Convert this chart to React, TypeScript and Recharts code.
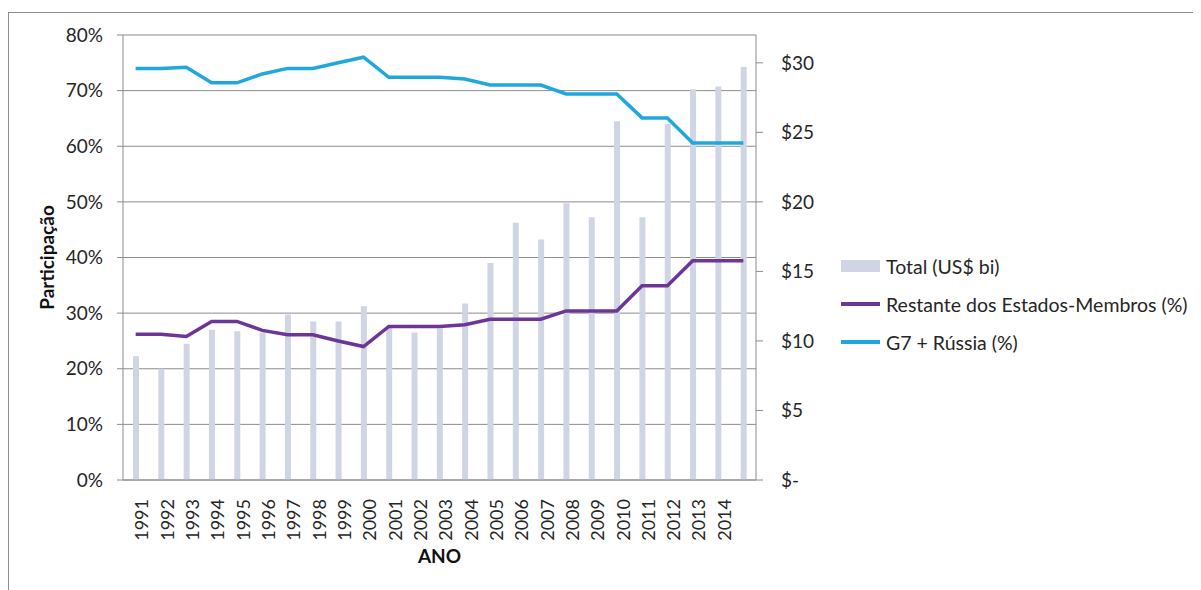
import {
  ComposedChart,
  Bar,
  Line,
  XAxis,
  YAxis,
  CartesianGrid,
  Legend,
} from "recharts";

const years = [
  "1991", "1992", "1993", "1994", "1995", "1996", "1997", "1998", "1999", "2000",
  "2001", "2002", "2003", "2004", "2005", "2006", "2007", "2008", "2009", "2010",
  "2011", "2012", "2013", "2014", "",
];

// total em US$ bi (eixo da direita)
const total = [
  8.9, 8.0, 9.8, 10.8, 10.7, 10.6, 11.9, 11.4, 11.4, 12.5,
  11.0, 10.6, 10.9, 12.7, 15.6, 18.5, 17.3, 19.9, 18.9, 25.8,
  18.9, 25.6, 28.1, 28.3, 29.7,
];

// participação em % (eixo da esquerda)
const restante = [
  26.2, 26.2, 25.8, 28.5, 28.5, 26.9, 26.1, 26.1, 25.0, 24.0,
  27.6, 27.6, 27.6, 27.9, 28.9, 28.9, 28.9, 30.4, 30.4, 30.4,
  34.9, 34.9, 39.4, 39.4, 39.4,
];

const g7 = [
  74.0, 74.0, 74.2, 71.4, 71.4, 73.0, 74.0, 74.0, 75.0, 76.0,
  72.4, 72.4, 72.4, 72.1, 71.0, 71.0, 71.0, 69.4, 69.4, 69.4,
  65.1, 65.1, 60.6, 60.6, 60.6,
];

const pctTicks = [0, 10, 20, 30, 40, 50, 60, 70, 80];
const usdTicks = [0, 5, 10, 15, 20, 25, 30];

const data = years.map((year, i) => ({
  year,
  total: total[i],
  restante: restante[i],
  g7: g7[i],
}));

const BAR_COLOR = "#cfd5e3";
const PURPLE = "#6e3598";
const BLUE = "#20a7de";
const GRID = "#8c8c8c";
const TEXT = "#262626";

const legendItems = [
  { label: "Total (US$ bi)", color: BAR_COLOR, kind: "bar" },
  { label: "Restante dos Estados-Membros (%)", color: PURPLE, kind: "line" },
  { label: "G7 + Rússia (%)", color: BLUE, kind: "line" },
];

const CustomLegend = () => (
  <div style={{ fontFamily: "Lato", fontSize: 19.5, color: TEXT }}>
    {legendItems.map((item) => (
      <div
        key={item.label}
        style={{ display: "flex", alignItems: "center", height: 38 }}
      >
        <div
          style={{
            width: 39,
            height: item.kind === "bar" ? 12 : 3.5,
            background: item.color,
            marginRight: 6,
          }}
        />
        <span style={{ whiteSpace: "nowrap" }}>{item.label}</span>
      </div>
    ))}
  </div>
);

export default function App() {
  return (
    <div style={{ position: "relative", width: 1193, height: 582 }}>
      <div
        style={{
          position: "absolute",
          left: 0,
          top: 4,
          width: 1200,
          height: 600,
          borderLeft: `1px solid ${GRID}`,
          borderTop: `1px solid ${GRID}`,
        }}
      />
      <div style={{ position: "absolute", left: 0, top: 0 }}>
        <ComposedChart
          width={1193}
          height={582}
          data={data}
          margin={{ top: 27, right: 365, bottom: 10, left: 0 }}
          style={{ fontFamily: "Lato" }}
        >
          <CartesianGrid
            yAxisId="left"
            vertical={false}
            stroke={GRID}
            strokeWidth={1}
          />
          <XAxis
            dataKey="year"
            interval={0}
            height={100}
            tickLine={false}
            tickMargin={13}
            axisLine={{ stroke: GRID }}
            tick={{
              angle: -90,
              textAnchor: "end",
              verticalAnchor: "middle",
              fontSize: 18,
              fill: TEXT,
            }}
            label={{
              value: "ANO",
              position: "insideBottom",
              offset: 17,
              fontSize: 19,
              fontWeight: 700,
              fill: "#111",
            }}
          />
          <YAxis
            yAxisId="left"
            domain={[0, 80]}
            ticks={pctTicks}
            width={115}
            tickSize={6}
            tickMargin={14}
            axisLine={{ stroke: GRID }}
            tickLine={{ stroke: GRID }}
            tick={{ fontSize: 19, fill: TEXT }}
            tickFormatter={(v) => `${v}%`}
            label={{
              value: "Participação",
              angle: -90,
              position: "insideLeft",
              offset: 39,
              fontSize: 19,
              fontWeight: 700,
              fill: "#111",
              style: { textAnchor: "middle" },
            }}
          />
          <YAxis
            yAxisId="right"
            orientation="right"
            domain={[0, 32]}
            ticks={usdTicks}
            width={80}
            tickSize={7}
            tickMargin={18}
            axisLine={{ stroke: GRID }}
            tickLine={{ stroke: GRID }}
            tick={{ fontSize: 19, fill: TEXT }}
            tickFormatter={(v) => (v === 0 ? "$-" : `$${v}`)}
          />
          <Legend
            layout="vertical"
            align="center"
            verticalAlign="middle"
            content={<CustomLegend />}
            wrapperStyle={{ left: 833, top: 239, width: 360 }}
          />
          <Bar
            yAxisId="right"
            dataKey="total"
            name="Total (US$ bi)"
            fill={BAR_COLOR}
            barSize={6}
            isAnimationActive={false}
          />
          <Line
            yAxisId="left"
            dataKey="restante"
            name="Restante dos Estados-Membros (%)"
            stroke={PURPLE}
            strokeWidth={3.5}
            dot={false}
            activeDot={false}
            isAnimationActive={false}
          />
          <Line
            yAxisId="left"
            dataKey="g7"
            name="G7 + Rússia (%)"
            stroke={BLUE}
            strokeWidth={3.5}
            dot={false}
            activeDot={false}
            isAnimationActive={false}
          />
        </ComposedChart>
      </div>
    </div>
  );
}
